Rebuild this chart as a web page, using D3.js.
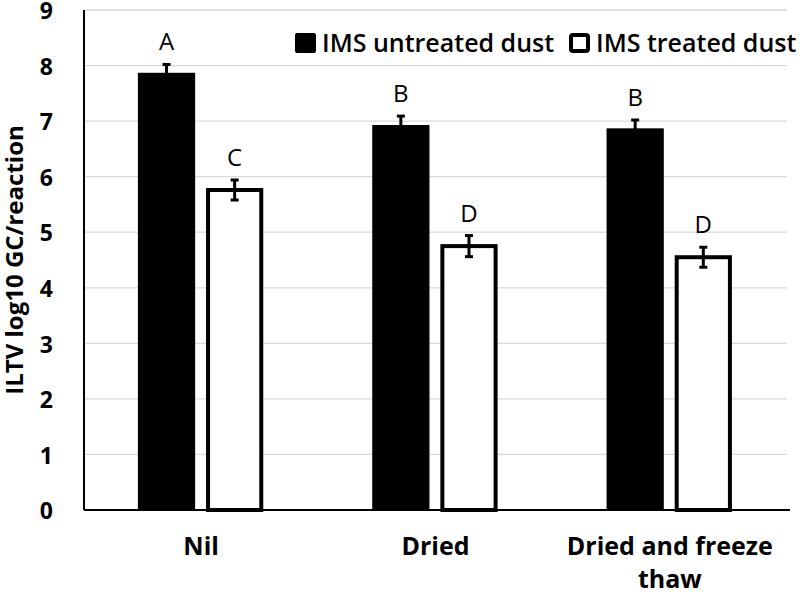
<!DOCTYPE html>
<html><head><meta charset="utf-8">
<script src="https://cdn.jsdelivr.net/npm/d3@7"></script>
<style>body{margin:0;background:#fff}svg{display:block}</style>
</head><body>
<svg id="c" width="800" height="595"></svg>
<script>
const categories = [["Nil"], ["Dried"], ["Dried and freeze", "thaw"]];
const seriesNames = ["IMS untreated dust", "IMS treated dust"];
const untreated = [7.87, 6.93, 6.87];
const treated = [5.76, 4.75, 4.55];
const untreatedErr = [0.15, 0.16, 0.15];
const treatedErr = [0.18, 0.19, 0.18];
const untreatedLetters = ["A", "B", "B"];
const treatedLetters = ["C", "D", "D"];
const yTicks = [0,1,2,3,4,5,6,7,8,9];

(function(){
const svg = d3.select("#c");
const pL = 84, pR = 787, pT = 10, pB = 510;
const font = "'Open Sans', sans-serif";

const x0 = d3.scaleBand().domain(d3.range(categories.length)).range([pL, pR]).padding(0);
const x1 = d3.scaleBand().domain([0,1]).range([x0.bandwidth()*0.23, x0.bandwidth()*0.765]).paddingInner(0.16);
const y = d3.scaleLinear().domain([0, 9]).range([pB, pT]);

svg.append("g").selectAll("line").data(yTicks.filter(d => d > 0)).join("line")
  .attr("x1", pL).attr("x2", pR)
  .attr("y1", d => y(d)).attr("y2", d => y(d))
  .attr("stroke", "#d9d9d9").attr("stroke-width", 1.3);

const bars = [];
categories.forEach((c, i) => {
  [untreated[i], treated[i]].forEach((v, s) => bars.push({i, s, v, e: [untreatedErr[i], treatedErr[i]][s], l: [untreatedLetters[i], treatedLetters[i]][s]}));
});

const sw = 4;
svg.append("g").selectAll("rect").data(bars).join("rect")
  .attr("x", d => x0(d.i) + x1(d.s) + (d.s ? sw/2 : 0))
  .attr("width", d => x1.bandwidth() - (d.s ? sw : 0))
  .attr("y", d => y(d.v))
  .attr("height", d => y(0) - y(d.v))
  .attr("fill", d => d.s ? "#fff" : "#000")
  .attr("stroke", d => d.s ? "#000" : "none")
  .attr("stroke-width", sw);

const eg = svg.append("g").attr("stroke", "#000");
bars.forEach(d => {
  const cx = x0(d.i) + x1(d.s) + x1.bandwidth()/2;
  eg.append("line").attr("x1", cx).attr("x2", cx).attr("y1", y(d.v + d.e)).attr("y2", y(d.v - d.e)).attr("stroke-width", 3);
  [d.v + d.e, d.v - d.e].forEach(t => eg.append("line").attr("x1", cx - 4).attr("x2", cx + 4).attr("y1", y(t)).attr("y2", y(t)).attr("stroke-width", 3));
});

svg.append("g").selectAll("text").data(bars).join("text")
  .attr("x", d => x0(d.i) + x1(d.s) + x1.bandwidth()/2)
  .attr("y", d => y(d.v + d.e) - 14)
  .attr("text-anchor", "middle")
  .attr("font-family", font).attr("font-size", 24).attr("fill", "#000")
  .text(d => d.l);

svg.append("line").attr("x1", pL).attr("x2", pL).attr("y1", pT).attr("y2", pB).attr("stroke", "#000").attr("stroke-width", 2);
svg.append("line").attr("x1", pL).attr("x2", pR + 3).attr("y1", pB).attr("y2", pB).attr("stroke", "#000").attr("stroke-width", 2);

const yAxis = d3.axisLeft(y).tickValues(yTicks).tickSize(0).tickPadding(31);
const ya = svg.append("g").attr("transform", `translate(${pL},0)`).call(yAxis);
ya.select(".domain").remove();
ya.selectAll("text").attr("font-family", font).attr("font-size", 23).attr("font-weight", 700).attr("fill", "#000").attr("dy", "0.38em");

const cg = svg.append("g");
categories.forEach((lines, i) => {
  const cx = x0(i) + x0.bandwidth()/2;
  const t = cg.append("text").attr("x", cx).attr("y", 555)
    .attr("text-anchor", "middle").attr("font-family", font).attr("font-size", 25).attr("font-weight", 700).attr("fill", "#000");
  lines.forEach((ln, k) => t.append("tspan").attr("x", cx).attr("dy", k ? 33 : 0).text(ln));
});

svg.append("text").attr("transform", `translate(23,260) rotate(-90)`)
  .attr("text-anchor", "middle").attr("font-family", font).attr("font-size", 24).attr("font-weight", 700).attr("fill", "#000")
  .text("ILTV log10 GC/reaction");

const legX = [295, 569];
seriesNames.forEach((n, s) => {
  svg.append("rect").attr("x", legX[s] + (s ? 2 : 0)).attr("y", 33 + (s ? 2 : 0)).attr("width", s ? 17 : 21).attr("height", s ? 16 : 20).attr("rx", 2)
    .attr("fill", s ? "#fff" : "#000").attr("stroke", s ? "#000" : "none").attr("stroke-width", 4);
  svg.append("text").attr("x", legX[s] + 27).attr("y", 52).attr("font-family", font).attr("font-size", 25).attr("font-weight", 600).attr("fill", "#000").text(n);
});
})();
</script>
</body></html>
